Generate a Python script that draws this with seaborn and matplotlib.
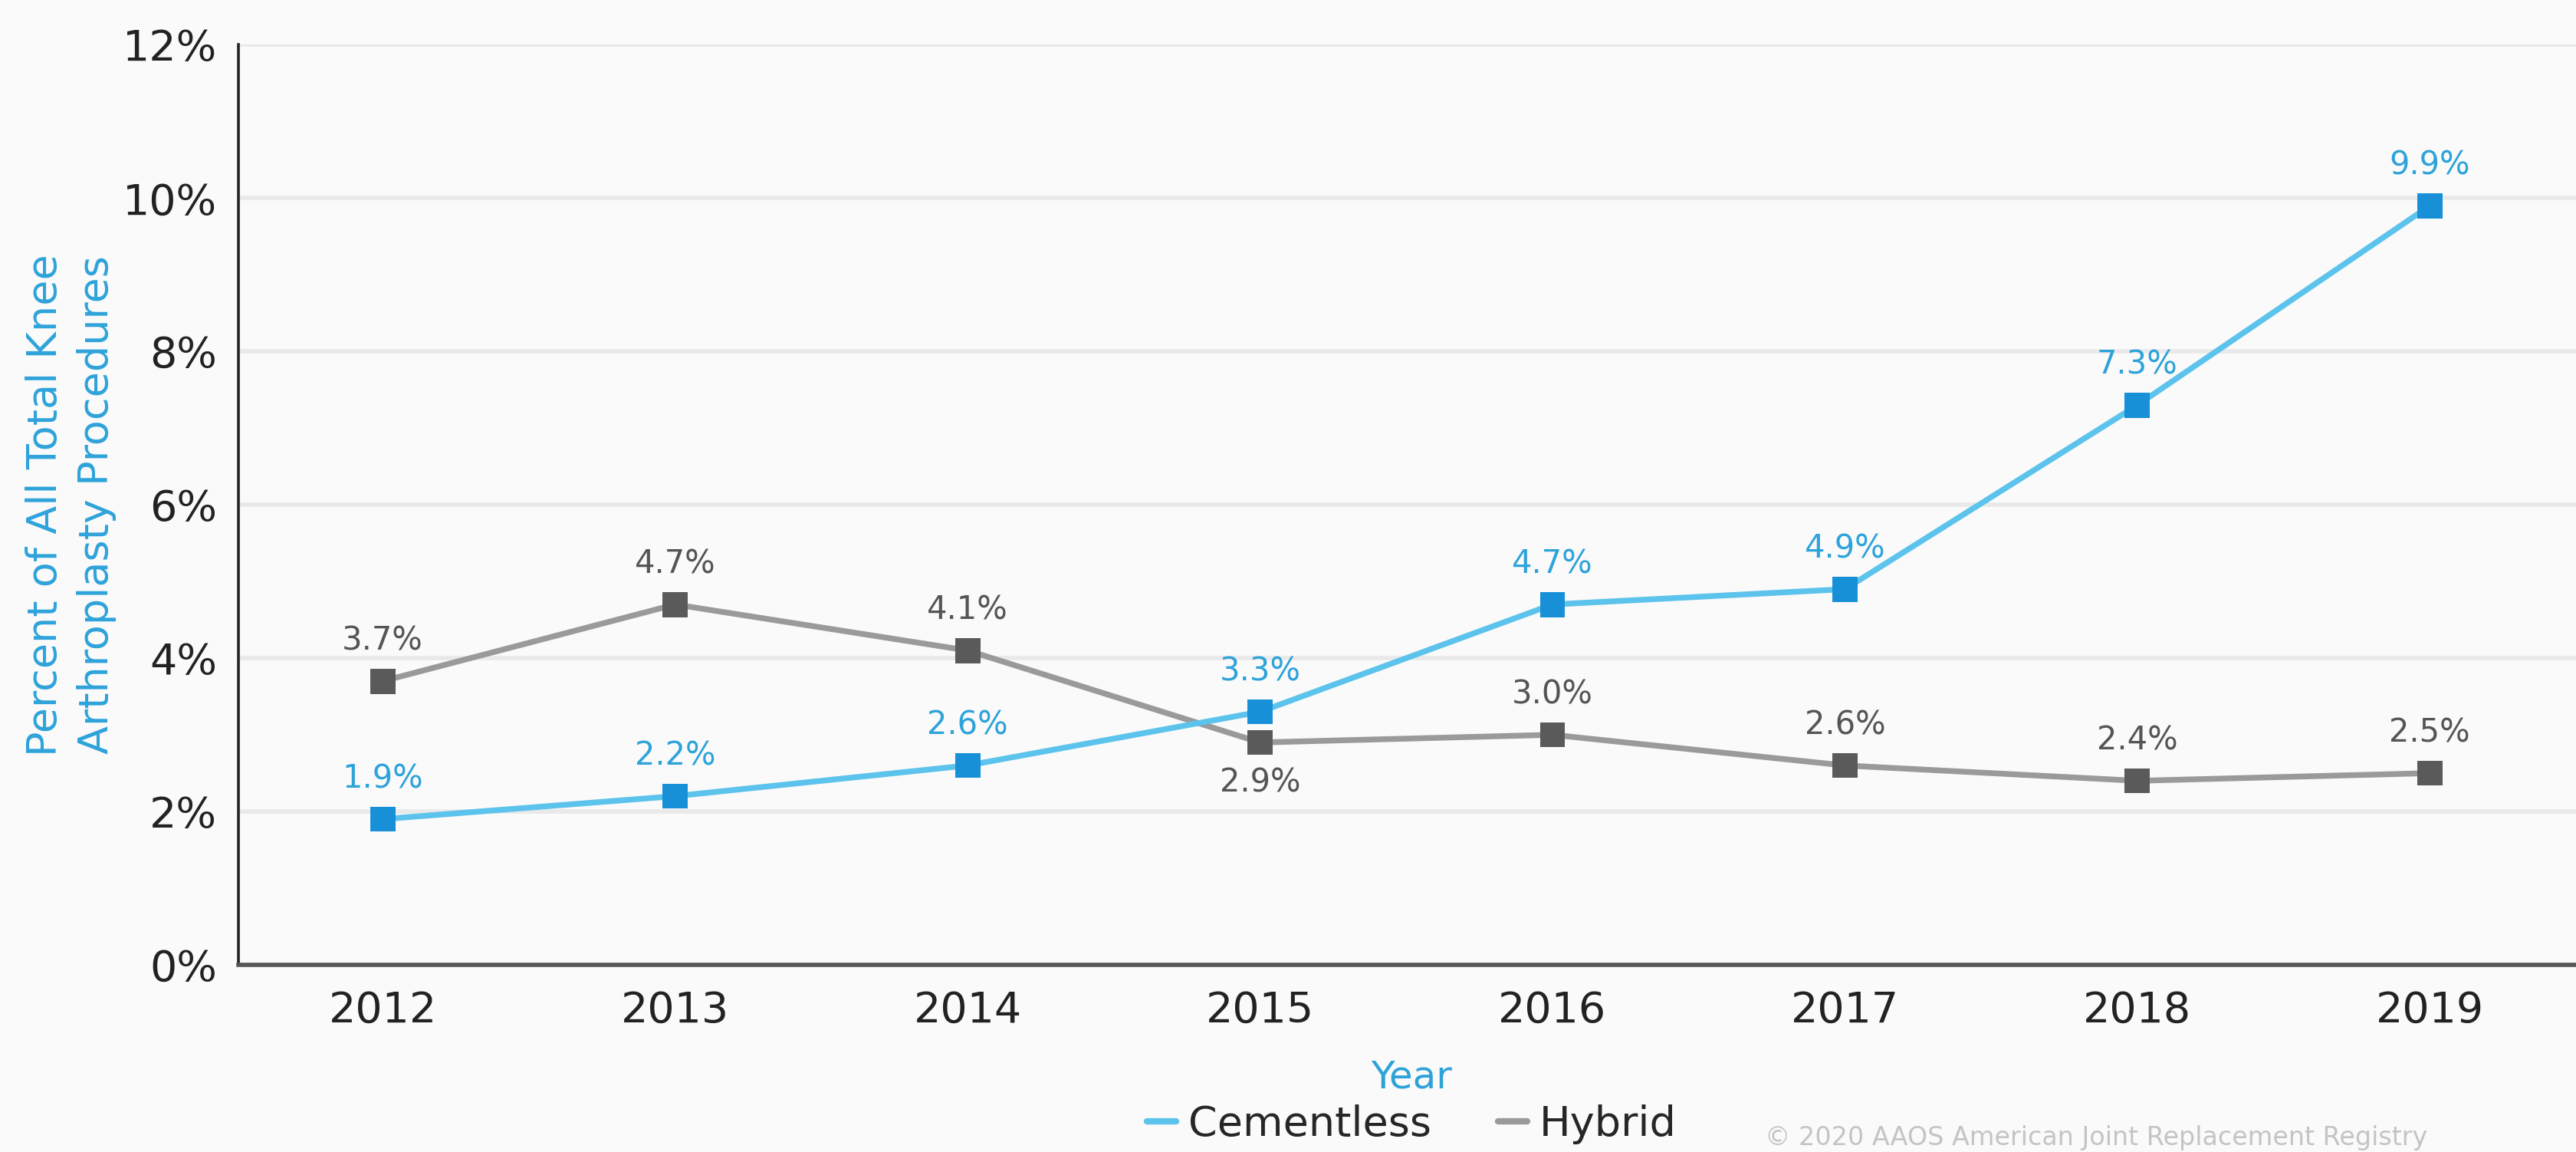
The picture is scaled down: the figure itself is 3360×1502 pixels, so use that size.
import numpy as np
import pandas as pd
import seaborn as sns
import matplotlib.pyplot as plt
from matplotlib.lines import Line2D
from matplotlib.ticker import FuncFormatter

years = ["2012", "2013", "2014", "2015", "2016", "2017", "2018", "2019"]
cementless = [1.9, 2.2, 2.6, 3.3, 4.7, 4.9, 7.3, 9.9]
hybrid = [3.7, 4.7, 4.1, 2.9, 3.0, 2.6, 2.4, 2.5]
hybrid_below = [False, False, False, True, False, False, False, False]
y_ticks = [0, 2, 4, 6, 8, 10, 12]

blue_line = "#5cc3ec"
blue_mark = "#1790d8"
blue_text = "#2ea3da"
gray_line = "#9a9a9a"
gray_mark = "#5a5a5a"
gray_text = "#555555"
bg = "#fafafa"

df = pd.DataFrame({"x": np.arange(len(years)), "Cementless": cementless, "Hybrid": hybrid})

sns.set_theme(style="white")
plt.rcParams['font.family'] = ['DejaVu Sans']

fig = plt.figure(figsize=(16.8, 7.51), dpi=200, facecolor=bg)
ax = fig.add_axes([0.0926, 0.1625, 0.9074, 0.7986])
ax.set_facecolor(bg)

sns.lineplot(data=df, x="x", y="Hybrid", color=gray_line, lw=2.7, ax=ax, zorder=2)
sns.scatterplot(data=df, x="x", y="Hybrid", color=gray_mark, marker="s", s=140,
                edgecolor="none", ax=ax, zorder=3)
sns.lineplot(data=df, x="x", y="Cementless", color=blue_line, lw=2.7, ax=ax, zorder=4)
sns.scatterplot(data=df, x="x", y="Cementless", color=blue_mark, marker="s", s=140,
                edgecolor="none", ax=ax, zorder=5)

for i, v in enumerate(cementless):
    ax.annotate(f"{v:.1f}%", (i, v), xytext=(0, 19), textcoords="offset points",
                ha="center", va="center", fontsize=15, color=blue_text, zorder=6)
for i, v in enumerate(hybrid):
    off = -19 if hybrid_below[i] else 19
    ax.annotate(f"{v:.1f}%", (i, v), xytext=(0, off), textcoords="offset points",
                ha="center", va="center", fontsize=15, color=gray_text, zorder=6)

ax.set_xlim(-0.493, 7.459)
ax.set_ylim(0, 12)
ax.set_yticks(y_ticks)
ax.yaxis.set_major_formatter(FuncFormatter(lambda v, p: f"{v:.0f}%"))
ax.set_xticks(np.arange(len(years)))
ax.set_xticklabels(years)
ax.set_xticks(np.arange(len(years)) + 0.5, minor=True)
ax.tick_params(axis="both", which="major", length=0, labelsize=20, colors="#222222")
ax.tick_params(axis="x", which="major", pad=12)
ax.tick_params(axis="y", which="major", pad=10)
ax.tick_params(axis="x", which="minor", direction="in", length=8, width=1, color="#cccccc")

ax.yaxis.grid(True, color="#e9e9e9", lw=2)
ax.set_axisbelow(True)
for s in ["top", "right"]:
    ax.spines[s].set_visible(False)
ax.spines["left"].set_color("#222222")
ax.spines["left"].set_linewidth(1.3)
ax.spines["bottom"].set_color("#555555")
ax.spines["bottom"].set_linewidth(2)

ax.set_xlabel("")
ax.set_ylabel("Percent of All Total Knee\nArthroplasty Procedures", fontsize=19.5,
              color=blue_text, linespacing=1.35, labelpad=3)

fig.text(0.548, 0.065, "Year", ha="center", va="center", fontsize=18, color=blue_text)

handles = [Line2D([0], [0], color=blue_line, lw=3),
           Line2D([0], [0], color=gray_line, lw=3)]
fig.legend(handles, ["Cementless", "Hybrid"], loc="center", bbox_to_anchor=(0.548, 0.024),
           ncol=2, frameon=False, fontsize=19.5, handlelength=0.7, handletextpad=0.3,
           columnspacing=1.6)

fig.text(0.685, 0.001, "© 2020 AAOS American Joint Replacement Registry", ha="left",
         va="bottom", fontsize=12, color="#c4c4c4")

plt.savefig("out.png", dpi=200, facecolor=bg)
